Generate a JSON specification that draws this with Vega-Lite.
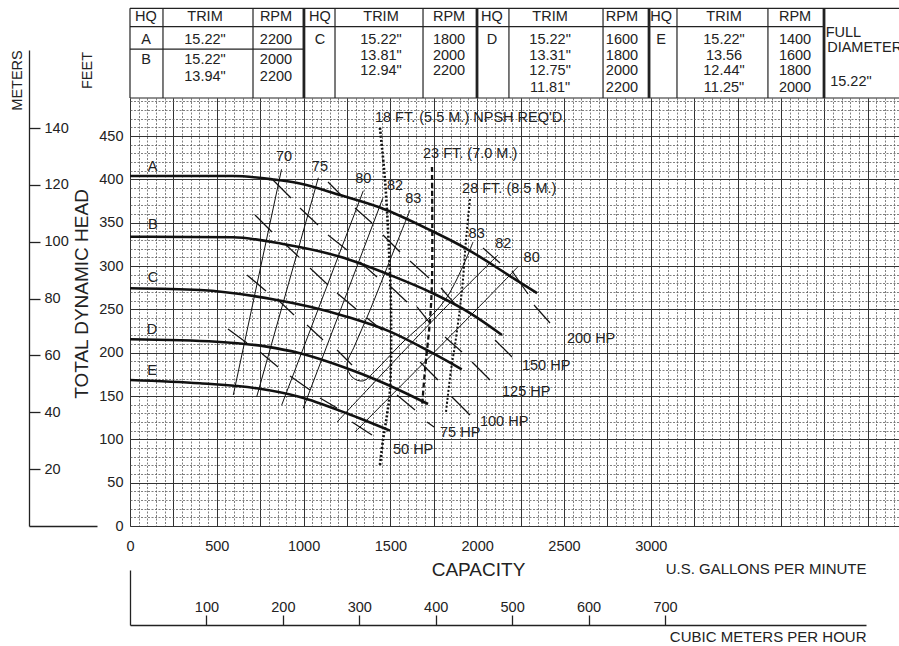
{
"$schema": "https://vega.github.io/schema/vega-lite/v6.json",
"width": 769, "height": 428,
"autosize": {"type": "none"},
"padding": {"left": 130, "top": 98, "right": 0, "bottom": 120},
"background": "white",
"config": {
 "font": "Liberation Sans",
 "view": {"stroke": null},
 "axis": {"labelFont": "Liberation Sans", "titleFont": "Liberation Sans", "labelColor": "#222", "titleColor": "#222", "titleFontWeight": "normal", "labelFontSize": 14.5, "titleFontSize": 15, "domainColor": "#222", "tickColor": "#222", "labelFlush": false, "labelOverlap": false, "labelBound": false},
 "text": {"font": "Liberation Sans", "fontSize": 14.5, "color": "#222"}
},
"datasets": {
 "curves": [
  {"curve":"A","q":0,"h":404},{"curve":"A","q":593,"h":404},{"curve":"A","q":824,"h":400},{"curve":"A","q":979,"h":395.3},{"curve":"A","q":1210,"h":382},{"curve":"A","q":1440,"h":367.6},{"curve":"A","q":1728,"h":341.6},{"curve":"A","q":1941,"h":319.7},{"curve":"A","q":2189,"h":288.5},{"curve":"A","q":2345,"h":268.9},
  {"curve":"B","q":0,"h":333.9},{"curve":"B","q":593,"h":333.2},{"curve":"B","q":881,"h":325.5},{"curve":"B","q":1210,"h":310.8},{"curve":"B","q":1498,"h":289.7},{"curve":"B","q":1745,"h":268.6},{"curve":"B","q":1959,"h":245.8},{"curve":"B","q":2143,"h":220.5},
  {"curve":"C","q":0,"h":274.4},{"curve":"C","q":403,"h":272.4},{"curve":"C","q":845,"h":260.9},{"curve":"C","q":1037,"h":253.1},{"curve":"C","q":1248,"h":241.6},{"curve":"C","q":1498,"h":224.3},{"curve":"C","q":1728,"h":201.2},{"curve":"C","q":1911,"h":180.9},
  {"curve":"D","q":0,"h":215.5},{"curve":"D","q":499,"h":212.7},{"curve":"D","q":787,"h":207.0},{"curve":"D","q":979,"h":199.3},{"curve":"D","q":1248,"h":182.0},{"curve":"D","q":1421,"h":168.5},{"curve":"D","q":1717,"h":140.8},
  {"curve":"E","q":0,"h":168.5},{"curve":"E","q":403,"h":164.7},{"curve":"E","q":730,"h":158.9},{"curve":"E","q":979,"h":148.9},{"curve":"E","q":1248,"h":130.1},{"curve":"E","q":1498,"h":110.0}
 ],
 "eff": [
  {"id":"70","ord":1,"q":873,"h":411.7},{"id":"70","ord":2,"q":595,"h":151.2},
  {"id":"75","ord":1,"q":1085,"h":402.0},{"id":"75","ord":2,"q":730,"h":149.2},
  {"id":"80","ord":1,"q":1344,"h":387.0},{"id":"80","ord":2,"q":874,"h":139.7},
  {"id":"82","ord":1,"q":1456,"h":378.2},{"id":"82","ord":2,"q":998,"h":135.8},
  {"id":"83","ord":1,"q":1613,"h":364.7},{"id":"83","ord":2,"q":1498,"h":307.0},{"id":"83","ord":3,"q":1383,"h":249.3},{"id":"83","ord":4,"q":1296,"h":208.9},{"id":"83","ord":5,"q":1250,"h":185.8},{"id":"83","ord":6,"q":1279,"h":172.0},{"id":"83","ord":7,"q":1342,"h":167.4},{"id":"83","ord":8,"q":1417,"h":180.1},{"id":"83","ord":9,"q":1555,"h":208.9},{"id":"83","ord":10,"q":1815,"h":260.8},{"id":"83","ord":11,"q":1976,"h":327.8},
  {"id":"82r","ord":1,"q":1192.5,"h":120.0},{"id":"82r","ord":2,"q":1803,"h":249.3},{"id":"82r","ord":3,"q":2120,"h":312.8},
  {"id":"80r","ord":1,"q":1296,"h":108.5},{"id":"80r","ord":2,"q":1993,"h":249.3},{"id":"80r","ord":3,"q":2235,"h":299.3}
 ],
 "hp": [
  {"q":823.8,"h":399.4,"q2":927.5,"h2":378.6},{"q":720.1,"h":359.0,"q2":818.0,"h2":339.3},{"q":887.1,"h":326.6,"q2":973.6,"h2":310.4},{"q":674.0,"h":289.7,"q2":783.5,"h2":271.2},{"q":846.8,"h":262.0,"q2":944.8,"h2":243.5},{"q":564.5,"h":227.4,"q2":674.0,"h2":211.2},{"q":748.9,"h":200.8,"q2":852.6,"h2":183.5},{"q":921.7,"h":173.1,"q2":1036.9,"h2":157.0},
  {"q":1140.6,"h":397.0,"q2":1227.0,"h2":379.7},{"q":979.3,"h":367.0,"q2":1083.0,"h2":347.4},{"q":1296.2,"h":367.0,"q2":1394.1,"h2":349.7},{"q":1457.5,"h":335.9,"q2":1555.4,"h2":316.3},{"q":1140.6,"h":335.9,"q2":1250.0,"h2":318.6},{"q":1613.0,"h":305.9,"q2":1722.4,"h2":286.2},{"q":1325.0,"h":304.7,"q2":1422.9,"h2":287.4},{"q":1036.9,"h":297.8,"q2":1140.6,"h2":278.2},
  {"q":1192.5,"h":268.9,"q2":1301.9,"h2":250.5},{"q":1492.0,"h":278.2,"q2":1595.7,"h2":258.5},{"q":2033.5,"h":320.9,"q2":2131.5,"h2":303.6},{"q":1791.6,"h":274.7,"q2":1872.2,"h2":256.2},{"q":2200.6,"h":294.3,"q2":2292.8,"h2":267.8},{"q":2327.3,"h":255.1,"q2":2419.5,"h2":234.3},{"q":2102.7,"h":214.7,"q2":2200.6,"h2":195.1},{"q":1970.2,"h":189.3,"q2":2073.9,"h2":168.5},
  {"q":1814.6,"h":218.1,"q2":1912.6,"h2":200.8},{"q":1670.6,"h":189.3,"q2":1774.3,"h2":168.5},{"q":1854.9,"h":148.9,"q2":1958.6,"h2":128.1},{"q":1710.9,"h":120.0,"q2":1751.2,"h2":114.3},{"q":1653.3,"h":252.8,"q2":1728.2,"h2":234.3},{"q":1365.3,"h":240.1,"q2":1451.7,"h2":226.2},{"q":1019.6,"h":232.0,"q2":1111.8,"h2":214.7},{"q":1192.5,"h":203.1,"q2":1278.9,"h2":185.8},
  {"q":1094.5,"h":147.7,"q2":1192.5,"h2":136.2},{"q":1278.9,"h":120.0,"q2":1394.1,"h2":105.0},{"q":1538.1,"h":151.2,"q2":1641.8,"h2":133.9}
 ],
 "npsh": [
  {"id":"18","ord":1,"q":1440,"h":459.4},{"id":"18","ord":2,"q":1469,"h":399.3},{"id":"18","ord":3,"q":1492,"h":318.6},{"id":"18","ord":4,"q":1503.5,"h":249.3},{"id":"18","ord":5,"q":1497.8,"h":157.0},{"id":"18","ord":6,"q":1480.6,"h":128.1},{"id":"18","ord":7,"q":1457.5,"h":99.3},{"id":"18","ord":8,"q":1440,"h":70.4},
  {"id":"23","ord":1,"q":1739.7,"h":414.4},{"id":"23","ord":2,"q":1739.7,"h":283.9},{"id":"23","ord":3,"q":1728.2,"h":237.8},{"id":"23","ord":4,"q":1699.4,"h":180.1},{"id":"23","ord":5,"q":1682.2,"h":137.3},
  {"id":"28","ord":1,"q":1958.6,"h":377.4},{"id":"28","ord":2,"q":1935.6,"h":330.1},{"id":"28","ord":3,"q":1912.6,"h":272.4},{"id":"28","ord":4,"q":1872.2,"h":208.9},{"id":"28","ord":5,"q":1849.2,"h":180.1},{"id":"28","ord":6,"q":1820.4,"h":131.6}
 ],
 "labels": [
  {"text":"A","kind":"c","q":130,"h":414.7},{"text":"B","kind":"c","q":132,"h":347.4},{"text":"C","kind":"c","q":132,"h":285.9},{"text":"D","kind":"c","q":127,"h":226.2},{"text":"E","kind":"c","q":127,"h":179.2},
  {"text":"70","kind":"c","q":887,"h":426.3},{"text":"75","kind":"c","q":1094,"h":414.7},{"text":"80","kind":"c","q":1344,"h":400.2},{"text":"82","kind":"c","q":1527,"h":392.4},{"text":"83","kind":"c","q":1632,"h":377.1},{"text":"83","kind":"c","q":1997,"h":337.0},{"text":"82","kind":"c","q":2150,"h":325.5},{"text":"80","kind":"c","q":2314,"h":309.0},
  {"text":"18 FT. (5.5 M.) NPSH REQ'D.","kind":"l","q":1411,"h":470.9},{"text":"23 FT. (7.0 M.)","kind":"l","q":1688,"h":429.4},{"text":"28 FT. (8.5 M.)","kind":"l","q":1913,"h":389.0},
  {"text":"200 HP","kind":"l","q":2517,"h":215.8},{"text":"150 HP","kind":"l","q":2258,"h":184.7},{"text":"125 HP","kind":"l","q":2143,"h":154.7},{"text":"100 HP","kind":"l","q":2016,"h":120.0},{"text":"75 HP","kind":"l","q":1786,"h":107.3},{"text":"50 HP","kind":"l","q":1515,"h":87.7}
 ],
 "table": [
  {"text":"HQ","q":92,"h":587.5},{"text":"TRIM","q":432,"h":587.5},{"text":"RPM","q":841,"h":587.5},{"text":"HQ","q":1094,"h":587.5},{"text":"TRIM","q":1446,"h":587.5},{"text":"RPM","q":1838,"h":587.5},{"text":"HQ","q":2085,"h":587.5},{"text":"TRIM","q":2420,"h":587.5},{"text":"RPM","q":2834,"h":587.5},{"text":"HQ","q":3060,"h":587.5},{"text":"TRIM","q":3422,"h":587.5},{"text":"RPM","q":3831,"h":587.5},
  {"text":"A","q":92,"h":561},{"text":"15.22\"","q":432,"h":561},{"text":"2200","q":841,"h":561},
  {"text":"B","q":92,"h":537.9},{"text":"15.22\"","q":432,"h":537.9},{"text":"13.94\"","q":432,"h":517.9},{"text":"2000","q":841,"h":537.9},{"text":"2200","q":841,"h":517.9},
  {"text":"C","q":1094,"h":561},{"text":"15.22\"","q":1446,"h":561},{"text":"13.81\"","q":1446,"h":543},{"text":"12.94\"","q":1446,"h":525},{"text":"1800","q":1838,"h":561},{"text":"2000","q":1838,"h":543},{"text":"2200","q":1838,"h":525},
  {"text":"D","q":2085,"h":561},{"text":"15.22\"","q":2420,"h":561},{"text":"13.31\"","q":2420,"h":543},{"text":"12.75\"","q":2420,"h":525},{"text":"11.81\"","q":2420,"h":506},{"text":"1600","q":2834,"h":561},{"text":"1800","q":2834,"h":543},{"text":"2000","q":2834,"h":525},{"text":"2200","q":2834,"h":506},
  {"text":"E","q":3060,"h":561},{"text":"15.22\"","q":3422,"h":561},{"text":"13.56","q":3422,"h":543},{"text":"12.44\"","q":3422,"h":525},{"text":"11.25\"","q":3422,"h":506},{"text":"1400","q":3831,"h":561},{"text":"1600","q":3831,"h":543},{"text":"1800","q":3831,"h":525},{"text":"2000","q":3831,"h":506},
  {"text":"FULL","q":4110,"h":569},{"text":"DIAMETER","q":4232,"h":551.7},{"text":"15.22\"","q":4153,"h":512.5}
 ],
 "tablelines": [
  {"kind":"cell","q":0,"q2":4430,"h":597.5,"h2":597.5},{"kind":"cell","q":0,"q2":3992,"h":576.3,"h2":576.3},{"kind":"cell","q":0,"q2":997,"h":550.5,"h2":550.5},{"kind":"cell","q":0,"q2":4430,"h":494,"h2":494},
  {"kind":"cell","q":0,"q2":0,"h":494,"h2":597.5},{"kind":"cell","q":190,"q2":190,"h":494,"h2":597.5},{"kind":"cell","q":708.6,"q2":708.6,"h":494,"h2":597.5},{"kind":"group","q":1002,"q2":1002,"h":494,"h2":597.5},{"kind":"cell","q":1181,"q2":1181,"h":494,"h2":597.5},{"kind":"cell","q":1688,"q2":1688,"h":494,"h2":597.5},{"kind":"group","q":1999,"q2":1999,"h":494,"h2":597.5},{"kind":"cell","q":2183,"q2":2183,"h":494,"h2":597.5},{"kind":"cell","q":2725,"q2":2725,"h":494,"h2":597.5},{"kind":"group","q":2990,"q2":2990,"h":494,"h2":597.5},{"kind":"cell","q":3151,"q2":3151,"h":494,"h2":597.5},{"kind":"cell","q":3675,"q2":3675,"h":494,"h2":597.5},{"kind":"group","q":3998,"q2":3998,"h":494,"h2":597.5}
 ]
},
"resolve": {"scale": {"x": "independent", "y": "independent", "strokeWidth": "independent", "strokeDash": "independent"}},
"layer": [
 {
  "data": {"name": "curves"},
  "mark": {"type": "point", "opacity": 0},
  "encoding": {
   "x": {"field": "q", "type": "quantitative", "scale": {"domain": [0, 4430], "nice": false, "zero": false},
    "axis": {"orient": "bottom", "values": [0,50,100,150,200,250,300,350,400,450,500,550,600,650,700,750,800,850,900,950,1000,1050,1100,1150,1200,1250,1300,1350,1400,1450,1500,1550,1600,1650,1700,1750,1800,1850,1900,1950,2000,2050,2100,2150,2200,2250,2300,2350,2400,2450,2500,2550,2600,2650,2700,2750,2800,2850,2900,2950,3000,3050,3100,3150,3200,3250,3300,3350,3400,3450,3500,3550,3600,3650,3700,3750,3800,3850,3900,3950,4000,4050,4100,4150,4200,4250,4300,4350,4400],
     "grid": true, "gridDash": [2, 1.5], "gridColor": "#5e5e5e", "gridWidth": 0.8, "labels": false, "ticks": false, "domain": false,
     "title": "U.S. GALLONS PER MINUTE", "titleX": 736, "titleY": 42, "titleAlign": "right", "titleBaseline": "middle", "titleFontSize": 15}},
   "y": {"field": "h", "type": "quantitative", "scale": {"domain": [0, 494], "nice": false, "zero": false},
    "axis": {"orient": "left", "values": [0,10,20,30,40,50,60,70,80,90,100,110,120,130,140,150,160,170,180,190,200,210,220,230,240,250,260,270,280,290,300,310,320,330,340,350,360,370,380,390,400,410,420,430,440,450,460,470,480,490],
     "grid": true, "gridDash": [2, 1.5], "gridColor": "#5e5e5e", "gridWidth": 0.8, "labels": false, "ticks": false, "domain": false,
     "title": "FEET", "titleX": -42.5, "titleY": -28, "titleAngle": 270, "titleAlign": "center", "titleBaseline": "middle", "titleFontSize": 14.5}}
  }
 },
 {
  "data": {"name": "curves"},
  "mark": {"type": "point", "opacity": 0},
  "encoding": {
   "x": {"field": "q", "type": "quantitative", "scale": {"domain": [0, 4430], "nice": false, "zero": false},
    "axis": {"orient": "bottom", "values": [0,250,500,750,1000,1250,1500,1750,2000,2250,2500,2750,3000,3250,3500,3750,4000,4250],
     "grid": true, "gridColor": "#333", "gridWidth": 1, "ticks": false, "tickSize": 0, "domain": false, "format": "d",
     "labelExpr": "(datum.value % 500 === 0 && datum.value <= 3000) ? datum.label : ''", "labelPadding": 13,
     "title": "CAPACITY", "titleX": 348, "titleY": 43, "titleAlign": "center", "titleBaseline": "middle", "titleFontSize": 19}},
   "y": {"field": "h", "type": "quantitative", "scale": {"domain": [0, 494], "nice": false, "zero": false},
    "axis": {"orient": "left", "values": [0,50,100,150,200,250,300,350,400,450],
     "grid": true, "gridColor": "#333", "gridWidth": 1, "ticks": false, "tickSize": 0, "domain": false, "format": "d", "labelPadding": 7,
     "title": "TOTAL DYNAMIC HEAD", "titleX": -49, "titleY": 195.5, "titleAngle": 270, "titleAlign": "center", "titleBaseline": "middle", "titleFontSize": 19}}
  }
 },
 {
  "data": {"name": "curves"},
  "mark": {"type": "point", "opacity": 0},
  "encoding": {
   "x": {"field": "q", "type": "quantitative", "scale": {"domain": [0, 1], "range": [-101, -33], "nice": false, "zero": false},
    "axis": {"orient": "bottom", "grid": false, "ticks": false, "labels": false, "domain": true, "domainWidth": 1.3, "title": null}},
   "y": {"field": "h", "type": "quantitative", "scale": {"domain": [0, 167.46], "range": [428, -48], "nice": false, "zero": false},
    "axis": {"orient": "right", "offset": -870, "values": [20,40,60,80,100,120,140], "grid": false, "domain": true, "domainWidth": 1.3, "ticks": true, "tickSize": 11, "tickWidth": 1.3, "labelPadding": 4, "labelAlign": "left", "labelBaseline": "middle", "format": "d",
     "title": "METERS", "titleX": -11.5, "titleY": -18, "titleAngle": 270, "titleAlign": "center", "titleBaseline": "middle", "titleFontSize": 14.5}}
  }
 },
 {
  "data": {"name": "curves"},
  "mark": {"type": "point", "opacity": 0},
  "encoding": {
   "x": {"field": "q", "type": "quantitative", "scale": {"domain": [0, 963], "range": [0, 736], "nice": false, "zero": false},
    "axis": {"orient": "top", "offset": -527, "values": [100,200,300,400,500,600,700], "grid": false, "domain": true, "domainWidth": 1.3, "ticks": true, "tickSize": 10, "tickWidth": 1.3, "labelPadding": 1, "format": "d",
     "title": "CUBIC METERS PER HOUR", "titleX": 736, "titleY": 11, "titleAlign": "right", "titleBaseline": "middle", "titleFontSize": 15}},
   "y": {"field": "h", "type": "quantitative", "scale": {"domain": [0, 1], "range": [527, 472], "nice": false, "zero": false},
    "axis": {"orient": "left", "grid": false, "ticks": false, "labels": false, "domain": true, "domainWidth": 1.3, "title": null}}
  }
 },
 {
  "data": {"name": "tablelines"},
  "mark": {"type": "rule", "color": "#222"},
  "encoding": {
   "x": {"field": "q", "type": "quantitative", "scale": {"domain": [0, 4430], "nice": false, "zero": false}, "axis": null},
   "x2": {"field": "q2"},
   "y": {"field": "h", "type": "quantitative", "scale": {"domain": [0, 494], "nice": false, "zero": false}, "axis": null},
   "y2": {"field": "h2"},
   "strokeWidth": {"field": "kind", "type": "nominal", "scale": {"domain": ["cell", "group"], "range": [1.2, 2.8]}, "legend": null}
  }
 },
 {
  "data": {"name": "table"},
  "mark": {"type": "text", "align": "center", "baseline": "middle", "fontSize": 14.5},
  "encoding": {
   "x": {"field": "q", "type": "quantitative", "scale": {"domain": [0, 4430], "nice": false, "zero": false}, "axis": null},
   "y": {"field": "h", "type": "quantitative", "scale": {"domain": [0, 494], "nice": false, "zero": false}, "axis": null},
   "text": {"field": "text"}
  }
 },
 {
  "data": {"name": "curves"},
  "mark": {"type": "line", "color": "#111", "strokeWidth": 2.6, "interpolate": "monotone"},
  "encoding": {
   "x": {"field": "q", "type": "quantitative", "scale": {"domain": [0, 4430], "nice": false, "zero": false}, "axis": null},
   "y": {"field": "h", "type": "quantitative", "scale": {"domain": [0, 494], "nice": false, "zero": false}, "axis": null},
   "detail": {"field": "curve"}
  }
 },
 {
  "data": {"name": "eff"},
  "mark": {"type": "line", "color": "#111", "strokeWidth": 1, "interpolate": "catmull-rom"},
  "encoding": {
   "x": {"field": "q", "type": "quantitative", "scale": {"domain": [0, 4430], "nice": false, "zero": false}, "axis": null},
   "y": {"field": "h", "type": "quantitative", "scale": {"domain": [0, 494], "nice": false, "zero": false}, "axis": null},
   "detail": {"field": "id"},
   "order": {"field": "ord", "type": "quantitative"}
  }
 },
 {
  "data": {"name": "hp"},
  "mark": {"type": "rule", "color": "#111", "strokeWidth": 1.2},
  "encoding": {
   "x": {"field": "q", "type": "quantitative", "scale": {"domain": [0, 4430], "nice": false, "zero": false}, "axis": null},
   "x2": {"field": "q2"},
   "y": {"field": "h", "type": "quantitative", "scale": {"domain": [0, 494], "nice": false, "zero": false}, "axis": null},
   "y2": {"field": "h2"}
  }
 },
 {
  "data": {"name": "npsh"},
  "mark": {"type": "line", "color": "#111", "interpolate": "catmull-rom"},
  "encoding": {
   "x": {"field": "q", "type": "quantitative", "scale": {"domain": [0, 4430], "nice": false, "zero": false}, "axis": null},
   "y": {"field": "h", "type": "quantitative", "scale": {"domain": [0, 494], "nice": false, "zero": false}, "axis": null},
   "detail": {"field": "id"},
   "order": {"field": "ord", "type": "quantitative"},
   "strokeDash": {"field": "id", "type": "nominal", "scale": {"domain": ["18", "23", "28"], "range": [[2, 2], [5, 3], [2, 2]]}, "legend": null},
   "strokeWidth": {"field": "id", "type": "nominal", "scale": {"domain": ["18", "23", "28"], "range": [2.6, 2, 2.6]}, "legend": null}
  }
 },
 {
  "data": {"name": "labels"},
  "transform": [{"filter": "datum.kind === 'c'"}],
  "mark": {"type": "text", "align": "center", "baseline": "middle"},
  "encoding": {
   "x": {"field": "q", "type": "quantitative", "scale": {"domain": [0, 4430], "nice": false, "zero": false}, "axis": null},
   "y": {"field": "h", "type": "quantitative", "scale": {"domain": [0, 494], "nice": false, "zero": false}, "axis": null},
   "text": {"field": "text"}
  }
 },
 {
  "data": {"name": "labels"},
  "transform": [{"filter": "datum.kind === 'l'"}],
  "mark": {"type": "text", "align": "left", "baseline": "middle"},
  "encoding": {
   "x": {"field": "q", "type": "quantitative", "scale": {"domain": [0, 4430], "nice": false, "zero": false}, "axis": null},
   "y": {"field": "h", "type": "quantitative", "scale": {"domain": [0, 494], "nice": false, "zero": false}, "axis": null},
   "text": {"field": "text"}
  }
 }
]
}
